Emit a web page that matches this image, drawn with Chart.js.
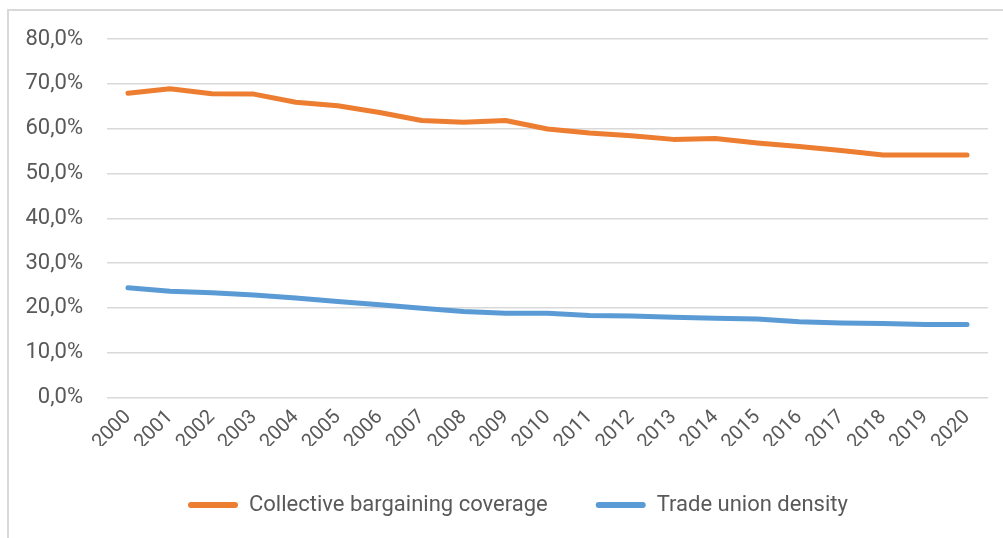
<!DOCTYPE html>
<html>
<head>
<meta charset="utf-8">
<script src="https://cdn.jsdelivr.net/npm/chart.js@4.4.1/dist/chart.umd.min.js"></script>
<style>
  html, body { margin: 0; padding: 0; background: #ffffff; overflow: hidden; }
  #frame {
    position: absolute; left: 7px; top: 9px; width: 1200px; height: 800px;
    border-left: 2px solid #d9d9d9; border-top: 2px solid #d9d9d9;
  }
  #wrap { position: absolute; left: 0; top: 0; width: 1003px; height: 538px; }
</style>
</head>
<body>
<div id="frame"></div>
<div id="wrap"><canvas id="unionChart"></canvas></div>
<script>
// Data (percent)
const years = ['2000', '2001', '2002', '2003', '2004', '2005', '2006', '2007', '2008', '2009', '2010',
               '2011', '2012', '2013', '2014', '2015', '2016', '2017', '2018', '2019', '2020'];
const bargainingCoverage = [67.9, 68.9, 67.8, 67.7, 65.9, 65.1, 63.6, 61.8, 61.4, 61.8, 59.9,
                            59.0, 58.4, 57.6, 57.8, 56.8, 56.0, 55.1, 54.1, 54.1, 54.1];
const unionDensity = [24.5, 23.7, 23.4, 22.9, 22.2, 21.4, 20.7, 19.9, 19.2, 18.8, 18.8,
                      18.3, 18.2, 17.9, 17.7, 17.5, 16.9, 16.6, 16.5, 16.3, 16.3];
const yTicks = [0, 10, 20, 30, 40, 50, 60, 70, 80];

const textColor = '#595959';
const fontFamily = 'Roboto, "Noto Sans", sans-serif';

// move the legend to where Excel put it
const legendShift = {
    id: 'legendShift',
    afterLayout(chart) {
        if (chart.legend) {
            chart.legend.left = 140;
        }
    }
};

const config = {
    type: 'line',
    data: {
        labels: years,
        datasets: [
            {
                label: 'Collective bargaining coverage',
                data: bargainingCoverage,
                borderColor: '#ED7D31',
                backgroundColor: '#ED7D31',
                borderWidth: 5,
                borderCapStyle: 'round',
                borderJoinStyle: 'round',
                pointRadius: 0,
                tension: 0
            },
            {
                label: 'Trade union density',
                data: unionDensity,
                borderColor: '#5B9BD5',
                backgroundColor: '#5B9BD5',
                borderWidth: 5,
                borderCapStyle: 'round',
                borderJoinStyle: 'round',
                pointRadius: 0,
                tension: 0
            }
        ]
    },
    options: {
        responsive: true,
        maintainAspectRatio: false,
        animation: false,
        layout: { padding: { top: 39, left: 0, right: 15, bottom: 12 } },
        scales: {
            x: {
                offset: true,
                grid: { display: false, drawTicks: false },
                border: { display: false },
                ticks: {
                    color: textColor,
                    font: { family: fontFamily, size: 20 },
                    maxRotation: 45,
                    minRotation: 45,
                    padding: 8
                },
                afterFit(scale) { scale.height = 48.5; }
            },
            y: {
                min: 0,
                max: 80,
                grid: { color: '#d9d9d9', lineWidth: 1.5, drawTicks: false },
                border: { display: false },
                afterBuildTicks(scale) { scale.ticks = yTicks.map(v => ({ value: v })); },
                ticks: {
                    color: textColor,
                    font: { family: fontFamily, size: 22 },
                    padding: 24,
                    callback: v => v.toFixed(1).replace('.', ',') + '%'
                },
                afterFit(scale) { scale.width = 107; }
            }
        },
        plugins: {
            tooltip: { enabled: false },
            legend: {
                position: 'bottom',
                align: 'start',
                labels: {
                    color: textColor,
                    font: { family: fontFamily, size: 22 },
                    boxWidth: 50,
                    boxHeight: 6,
                    padding: 48,
                    useBorderRadius: true,
                    borderRadius: 3,
                    generateLabels(chart) {
                        const items = Chart.defaults.plugins.legend.labels.generateLabels(chart);
                        items.forEach(it => { it.lineWidth = 0; it.fillStyle = it.strokeStyle; });
                        return items;
                    }
                }
            }
        }
    },
    plugins: [legendShift]
};

window.onload = function() {
    const ctx = document.getElementById('unionChart').getContext('2d');
    new Chart(ctx, config);
};
</script>
</body>
</html>
